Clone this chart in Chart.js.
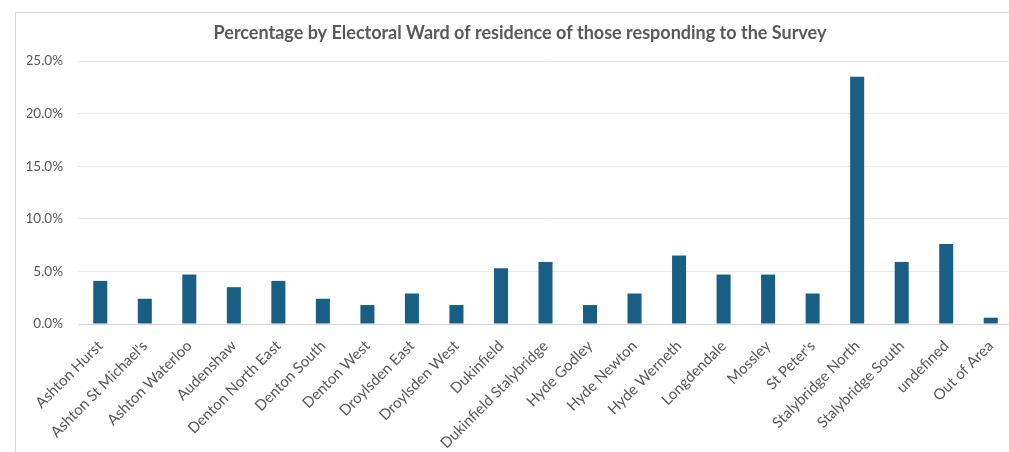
<!DOCTYPE html>
<html>
<head>
<meta charset="utf-8">
<script src="https://cdn.jsdelivr.net/npm/chart.js@4.4.1/dist/chart.umd.min.js"></script>
<style>
  html, body { margin: 0; padding: 0; background: #ffffff; overflow: hidden; width: 1009px; height: 452px; }
  #frame { position: absolute; left: 15px; top: 12px; width: 1100px; height: 500px; border: 1px solid #d9d9d9; box-sizing: border-box; }
  #wrap { position: absolute; left: 0; top: 0; width: 1024px; height: 452px; }
</style>
</head>
<body>
<div id="frame"></div>
<div id="wrap"><canvas id="c" width="1024" height="452"></canvas></div>
<script>
const chartTitle = "Percentage by Electoral Ward of residence of those responding to the Survey";
const wards = [
  "Ashton Hurst", "Ashton St Michael's", "Ashton Waterloo", "Audenshaw",
  "Denton North East", "Denton South", "Denton West", "Droylsden East",
  "Droylsden West", "Dukinfield", "Dukinfield Stalybridge", "Hyde Godley",
  "Hyde Newton", "Hyde Werneth", "Longdendale", "Mossley", "St Peter's",
  "Stalybridge North", "Stalybridge South", "undefined", "Out of Area"
];
const percentages = [
  4.1, 2.4, 4.7, 3.5,
  4.1, 2.4, 1.8, 2.9,
  1.8, 5.3, 5.9, 1.8,
  2.9, 6.5, 4.7, 4.7, 2.9,
  23.5, 5.9, 7.6, 0.6
];
const yTicks = [0, 5, 10, 15, 20, 25];

const textColor = "#595959";
const fontFamily = "Lato, sans-serif";

function draw() {
  new Chart(document.getElementById("c"), {
    type: "bar",
    data: {
      labels: wards,
      datasets: [{
        data: percentages,
        backgroundColor: "#195e83",
        borderWidth: 0,
        barPercentage: 0.315,
        categoryPercentage: 1.0
      }]
    },
    options: {
      responsive: false,
      animation: false,
      devicePixelRatio: 1,
      layout: { padding: { left: 27, right: 11, top: 0, bottom: 0 } },
      plugins: {
        legend: { display: false },
        tooltip: { enabled: false },
        title: {
          display: true,
          text: chartTitle,
          color: textColor,
          font: { family: fontFamily, size: 18, weight: "bold", lineHeight: 1.2 },
          padding: { top: 22, bottom: 17.4 }
        }
      },
      scales: {
        x: {
          grid: { display: false, drawTicks: false },
          border: { display: true, color: "#d9d9d9", width: 1 },
          ticks: {
            color: textColor,
            font: { family: fontFamily, size: 15 },
            minRotation: 45,
            maxRotation: 45,
            autoSkip: false,
            padding: 13
          },
          afterFit: (s) => { s.height = 452 - 324; }
        },
        y: {
          min: 0,
          max: 25,
          afterBuildTicks: (s) => { s.ticks = yTicks.map(v => ({ value: v })); },
          grid: { color: "#ebebeb", drawTicks: false },
          border: { display: false },
          ticks: {
            color: textColor,
            font: { family: fontFamily, size: 13.5 },
            padding: 15,
            callback: (v) => v.toFixed(1) + "%"
          },
          afterFit: (s) => { s.width = 51; }
        }
      }
    }
  });
}

Promise.all([
  document.fonts.load("15px Lato"),
  document.fonts.load("bold 18px Lato")
]).then(draw, draw);
</script>
</body>
</html>
